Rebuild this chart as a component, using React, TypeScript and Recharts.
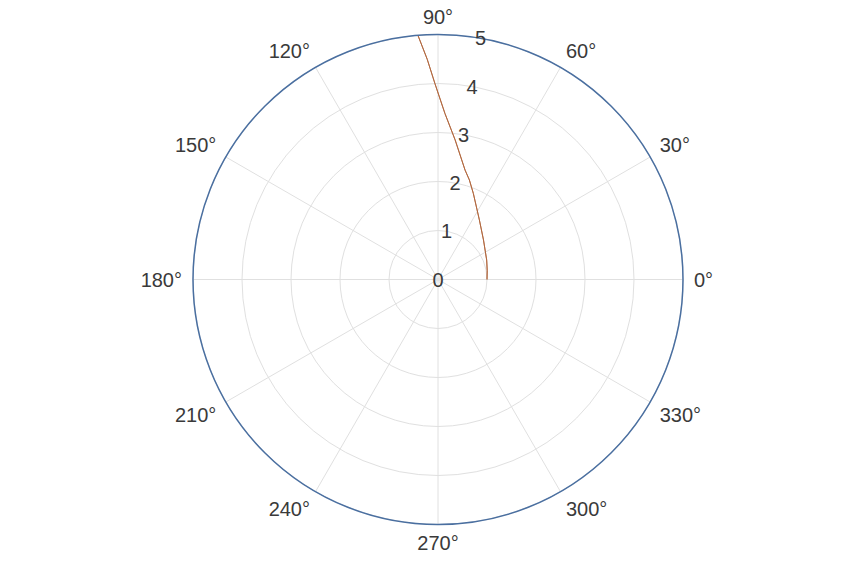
import { RadarChart, PolarGrid, PolarAngleAxis, PolarRadiusAxis, Radar } from 'recharts';

// spiral: angle in degrees, radius in axis units
const angles = [0, 10, 21.8, 41, 55.2, 67.7, 72.5, 76.1, 83, 87.6, 90.9, 92.8, 94.7];
const radii = [1.0, 1.02, 1.07, 1.23, 1.48, 1.9, 2.13, 2.3, 2.87, 3.39, 4.0, 4.5, 5.0];

const angleTicks = [0, 30, 60, 90, 120, 150, 180, 210, 240, 270, 300, 330];
const radiusTicks = [0, 1, 2, 3, 4, 5];

// Radar always closes its path, so walk the spiral out and back along itself
const outward = angles.map((a, i) => ({ angle: a, r: radii[i] }));
const data = [...outward, ...outward.slice(1, -1).reverse()];

const FONT = '"Liberation Sans", Arial, sans-serif';
const FONT_SIZE = 20;
const CAP = FONT_SIZE * 0.72;

function AngleTick(props: any) {
  const { cx, cy, radius, payload } = props;
  const deg = payload.coordinate;
  const rad = (deg * Math.PI) / 180;
  const cos = Math.cos(rad);
  const sin = Math.sin(rad);
  const d = radius + 11;
  const x = cx + d * cos;
  let y = cy - d * sin;
  const anchor = cos > 0.01 ? 'start' : cos < -0.01 ? 'end' : 'middle';
  if (sin < -0.01) y += CAP;
  else if (Math.abs(sin) <= 0.01) y += CAP / 2;
  return (
    <text x={x} y={y} textAnchor={anchor} fontFamily={FONT} fontSize={FONT_SIZE} fill="#3a3a3a">
      {`${payload.value}°`}
    </text>
  );
}

function RadiusTick(props: any) {
  const { x, y, payload } = props;
  return (
    <text x={x} y={y + CAP / 2} textAnchor="middle" fontFamily={FONT} fontSize={FONT_SIZE} fill="#3a3a3a">
      {payload.value}
    </text>
  );
}

export default function App() {
  return (
    <div style={{ position: 'absolute', left: 0, top: 0, background: '#fff' }}>
      <RadarChart
        width={860}
        height={569}
        data={data}
        cx={438}
        cy={279.5}
        outerRadius={245}
        startAngle={0}
        endAngle={360}
      >
        <PolarGrid gridType="circle" stroke="#e0e0e0" />
        <PolarAngleAxis
          dataKey="angle"
          type="number"
          domain={[0, 360]}
          ticks={angleTicks}
          tickLine={false}
          axisLineType="circle"
          axisLine={{ stroke: '#4a6fa0', strokeWidth: 1.5 }}
          tick={<AngleTick />}
        />
        <PolarRadiusAxis
          angle={80}
          type="number"
          domain={[0, 5]}
          ticks={radiusTicks}
          tickCount={6}
          axisLine={false}
          tickLine={false}
          tick={<RadiusTick />}
        />
        <Radar
          dataKey="r"
          stroke="#b0653c"
          strokeWidth={0.9}
          fill="none"
          fillOpacity={0}
          dot={false}
          isAnimationActive={false}
        />
      </RadarChart>
    </div>
  );
}
